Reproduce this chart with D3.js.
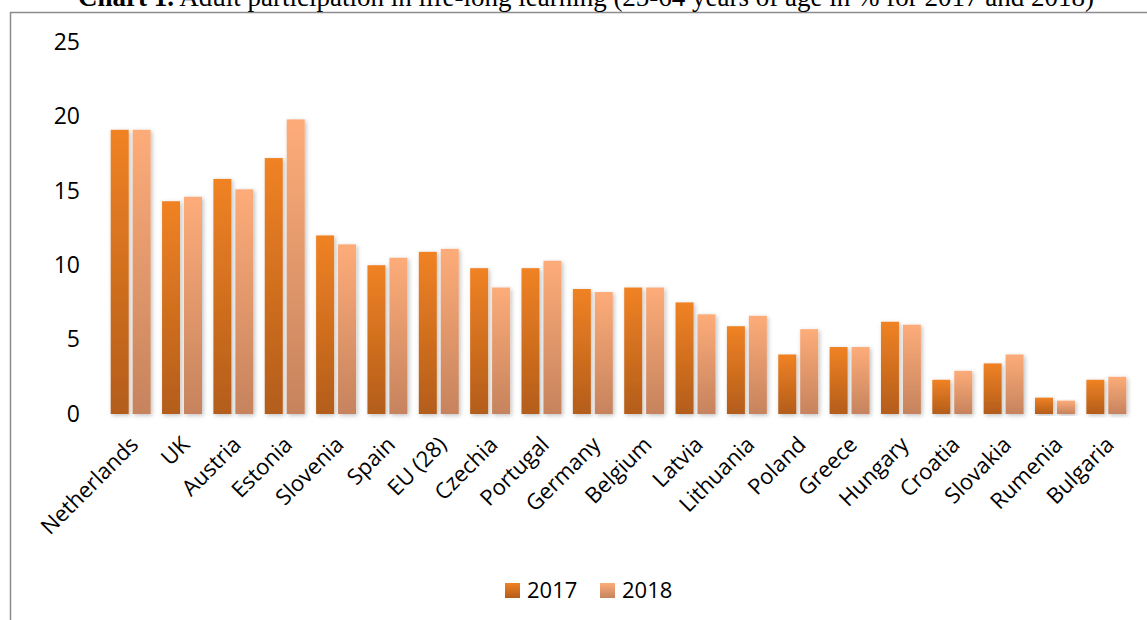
<!DOCTYPE html>
<html>
<head>
<meta charset="utf-8">
<script src="https://cdn.jsdelivr.net/npm/d3@7"></script>
<style>
  body { margin: 0; background: #fff; }
  svg { display: block; }
  text { font-family: "Open Sans", "Noto Sans", sans-serif; fill: #000; }
</style>
</head>
<body>
<div id="chart"></div>
<script>
// data
const countries = ["Netherlands", "UK", "Austria", "Estonia", "Slovenia", "Spain", "EU (28)", "Czechia",
  "Portugal", "Germany", "Belgium", "Latvia", "Lithuania", "Poland", "Greece", "Hungary",
  "Croatia", "Slovakia", "Rumenia", "Bulgaria"];
const years = ["2017", "2018"];
const values2017 = [19.1, 14.3, 15.8, 17.2, 12.0, 10.0, 10.9, 9.8, 9.8, 8.4, 8.5, 7.5, 5.9, 4.0, 4.5, 6.2, 2.3, 3.4, 1.1, 2.3];
const values2018 = [19.1, 14.6, 15.1, 19.8, 11.4, 10.5, 11.1, 8.5, 10.3, 8.2, 8.5, 6.7, 6.6, 5.7, 4.5, 6.0, 2.9, 4.0, 0.9, 2.5];
const yTicks = [0, 5, 10, 15, 20, 25];

const width = 1147, height = 620;
const margin = { top: 42, right: 15, bottom: 206, left: 105 };

const svg = d3.select("#chart")
  .append("svg")
  .attr("width", width)
  .attr("height", height);

const defs = svg.append("defs");

// vertical gradients like the office bar fill
const gradients = [
  { id: "g2017", top: "#f08224", bottom: "#b35d1a" },
  { id: "g2018", top: "#fdac79", bottom: "#c6835d" }
];
gradients.forEach(g => {
  const lg = defs.append("linearGradient")
    .attr("id", g.id)
    .attr("x1", 0).attr("y1", 0).attr("x2", 0).attr("y2", 1);
  lg.append("stop").attr("offset", "0%").attr("stop-color", g.top);
  lg.append("stop").attr("offset", "100%").attr("stop-color", g.bottom);
});

const shadow = defs.append("filter")
  .attr("id", "shadow")
  .attr("x", "-30%").attr("y", "-10%").attr("width", "160%").attr("height", "120%");
shadow.append("feDropShadow")
  .attr("dx", 1.5).attr("dy", 1.5).attr("stdDeviation", 2)
  .attr("flood-color", "#000").attr("flood-opacity", 0.25);

// frame around the figure
svg.append("path")
  .attr("d", `M10.5,${height} V12.5 H${width}`)
  .attr("fill", "none")
  .attr("stroke", "#8c8c8c")
  .attr("stroke-width", 1.5);

// title (cut at the top like the scan)
const title = svg.append("text")
  .attr("x", 586)
  .attr("y", 6)
  .attr("text-anchor", "middle")
  .style("font-family", "'Liberation Serif', 'Times New Roman', serif")
  .style("font-size", "27px");
title.append("tspan").style("font-weight", "bold").text("Chart 1.");
title.append("tspan").text(" Adult participation in life-long learning (25-64 years of age in % for 2017 and 2018)");

const plotW = width - margin.left - margin.right;
const plotH = height - margin.top - margin.bottom;

const g = svg.append("g")
  .attr("transform", `translate(${margin.left}, ${margin.top})`);

const x = d3.scaleBand()
  .domain(countries)
  .range([0, plotW]);

const x1 = d3.scaleBand()
  .domain(years)
  .range([0, x.bandwidth()])
  .paddingInner(0.18)
  .paddingOuter(0.26);

const y = d3.scaleLinear()
  .domain([0, 25])
  .range([plotH, 0]);

// gridlines
g.append("g")
  .attr("class", "grid")
  .selectAll("line")
  .data(yTicks)
  .enter()
  .append("line")
  .attr("x1", 0)
  .attr("x2", plotW)
  .attr("y1", d => Math.round(y(d)) + 0.5)
  .attr("y2", d => Math.round(y(d)) + 0.5)
  .attr("stroke", "#8a8a8a")
  .attr("stroke-width", 2)
  .style("filter", "url(#shadow)");

// y axis labels
const yAxis = g.append("g")
  .call(d3.axisLeft(y).tickValues(yTicks).tickSize(0).tickPadding(25));
yAxis.select("path.domain").remove();
yAxis.selectAll("text")
  .style("font-family", "'Open Sans', 'Noto Sans', sans-serif")
  .style("font-size", "23px")
  .attr("fill", "#000");

// bars
const series = [values2017, values2018];
const groups = g.selectAll("g.country")
  .data(countries)
  .enter()
  .append("g")
  .attr("class", "country")
  .attr("transform", d => `translate(${x(d)}, 0)`);

groups.selectAll("rect")
  .data((d, i) => years.map((yr, j) => ({ year: yr, value: series[j][i] })))
  .enter()
  .append("rect")
  .attr("x", d => x1(d.year))
  .attr("width", x1.bandwidth())
  .attr("y", d => y(d.value))
  .attr("height", d => plotH - y(d.value))
  .attr("fill", d => `url(#g${d.year})`)
  .style("filter", "url(#shadow)");

// x axis labels, rotated
const xAxis = g.append("g")
  .attr("transform", `translate(0, ${plotH})`)
  .call(d3.axisBottom(x).tickSize(0).tickPadding(0));
xAxis.select("path.domain").remove();
xAxis.selectAll("text")
  .style("font-family", "'Open Sans', 'Noto Sans', sans-serif")
  .style("font-size", "22px")
  .attr("fill", "#000")
  .attr("text-anchor", "end")
  .attr("dy", 0)
  .attr("transform", "translate(9, 32) rotate(-45)");

// legend
const legend = svg.append("g")
  .attr("transform", "translate(505, 583)");
const legendItems = legend.selectAll("g")
  .data(years)
  .enter()
  .append("g")
  .attr("transform", (d, i) => `translate(${i * 95}, 0)`);
legendItems.append("rect")
  .attr("width", 15)
  .attr("height", 15)
  .attr("fill", d => `url(#g${d})`);
legendItems.append("text")
  .attr("x", 22)
  .attr("y", 15)
  .style("font-size", "22px")
  .text(d => d);
</script>
</body>
</html>
